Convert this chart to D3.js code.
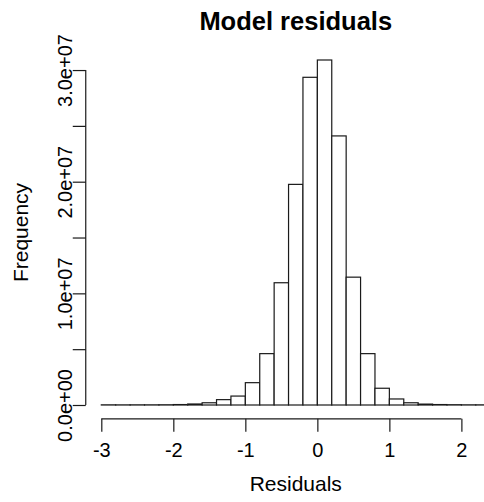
<!DOCTYPE html>
<html>
<head>
<meta charset="utf-8">
<script src="https://cdn.jsdelivr.net/npm/d3@7"></script>
<style>
  html, body { margin: 0; padding: 0; background: #fff; }
  svg { display: block; }
  text { font-family: "Liberation Sans", Arial, Helvetica, sans-serif; fill: #000; }
</style>
</head>
<body>
<svg id="chart" width="484" height="502"></svg>
<script>
// ---- data ----
const title = "Model residuals";
const xLabel = "Residuals";
const yLabel = "Frequency";
const breaks = [-3.0, -2.8, -2.6, -2.4, -2.2, -2.0, -1.8, -1.6, -1.4, -1.2, -1.0, -0.8, -0.6, -0.4, -0.2,
                 0.0, 0.2, 0.4, 0.6, 0.8, 1.0, 1.2, 1.4, 1.6, 1.8, 2.0, 2.2, 2.4];
const counts = [1.5e4, 1.2e4, 1.5e4, 1.5e4, 2.0e4, 4.0e4, 9.0e4, 2.0e5, 4.8e5, 8.0e5, 2.0e6, 4.6e6,
                1.095e7, 1.976e7, 2.935e7, 3.09e7, 2.41e7, 1.145e7, 4.6e6, 1.5e6, 5.4e5, 2.0e5,
                8.0e4, 4.0e4, 2.5e4, 1.5e4, 1.5e4];
const xTicks = [-3, -2, -1, 0, 1, 2];
const yTicks = [0, 5e6, 1e7, 1.5e7, 2e7, 2.5e7, 3e7];
const yTickLabels = ["0.0e+00", "", "1.0e+07", "", "2.0e+07", "", "3.0e+07"];

// ---- layout ----
const svg = d3.select("#chart");
const plot = { left: 85.75, right: 505.75, top: 46.2, bottom: 418.8 };
const bins = counts.map((c, i) => ({ x0: breaks[i], x1: breaks[i + 1], n: c }));

const xMin = d3.min(breaks), xMax = d3.max(breaks);
const xPad = 0.04 * (xMax - xMin);
const x = d3.scaleLinear().domain([xMin - xPad, xMax + xPad]).range([plot.left, plot.right]);
const yMax = d3.max(counts);
const y = d3.scaleLinear().domain([-0.04 * yMax, 1.04 * yMax]).range([plot.bottom, plot.top]);

const stroke = "#1a1a1a";

// clip to the plot region (which runs past the image edge)
svg.append("clipPath").attr("id", "plotclip").append("rect")
  .attr("x", plot.left).attr("y", plot.top)
  .attr("width", plot.right - plot.left).attr("height", plot.bottom - plot.top);

// bars
svg.append("g").attr("clip-path", "url(#plotclip)")
  .selectAll("rect").data(bins).join("rect")
  .attr("x", d => x(d.x0))
  .attr("y", d => y(d.n))
  .attr("width", d => x(d.x1) - x(d.x0))
  .attr("height", d => y(0) - y(d.n))
  .attr("fill", "#fff")
  .attr("stroke", stroke)
  .attr("stroke-width", 1.2);

// x axis
const xAxis = d3.axisBottom(x).tickValues(xTicks).tickSize(13).tickSizeOuter(0)
  .tickFormat(d3.format("d")).tickPadding(11);
const gx = svg.append("g").attr("transform", `translate(0,${plot.bottom})`).call(xAxis);
gx.select(".domain").remove();
gx.append("line")
  .attr("x1", x(xTicks[0])).attr("x2", x(xTicks[xTicks.length - 1]))
  .attr("stroke", stroke).attr("stroke-width", 1.2);
gx.selectAll(".tick line").attr("stroke", stroke).attr("stroke-width", 1.2);
gx.selectAll(".tick text")
  .attr("font-size", 20).attr("fill", "#000")
  .text(d => d < 0 ? "-" + Math.abs(d) : String(d));

// y axis
const yAxis = d3.axisLeft(y).tickValues(yTicks).tickSize(13).tickSizeOuter(0)
  .tickFormat((d, i) => yTickLabels[i]);
const gy = svg.append("g").attr("transform", `translate(${plot.left},0)`).call(yAxis);
gy.select(".domain").remove();
gy.append("line")
  .attr("y1", y(yTicks[0])).attr("y2", y(yTicks[yTicks.length - 1]))
  .attr("stroke", stroke).attr("stroke-width", 1.2);
gy.selectAll(".tick line").attr("stroke", stroke).attr("stroke-width", 1.2);
gy.selectAll(".tick text")
  .attr("font-size", 20).attr("fill", "#000")
  .attr("x", null).attr("dy", null)
  .attr("text-anchor", "middle")
  .attr("transform", "translate(-14,0) rotate(-90)")
  .attr("y", 0);

// titles
const cx = (plot.left + plot.right) / 2;
const cy = (plot.top + plot.bottom) / 2;
svg.append("text").attr("x", cx).attr("y", 30).attr("text-anchor", "middle")
  .attr("font-size", 25.5).attr("font-weight", "bold").text(title);
svg.append("text").attr("x", cx).attr("y", 491).attr("text-anchor", "middle")
  .attr("font-size", 21).text(xLabel);
svg.append("text").attr("transform", `translate(28,${cy}) rotate(-90)`).attr("text-anchor", "middle")
  .attr("font-size", 21).text(yLabel);
</script>
</body>
</html>
